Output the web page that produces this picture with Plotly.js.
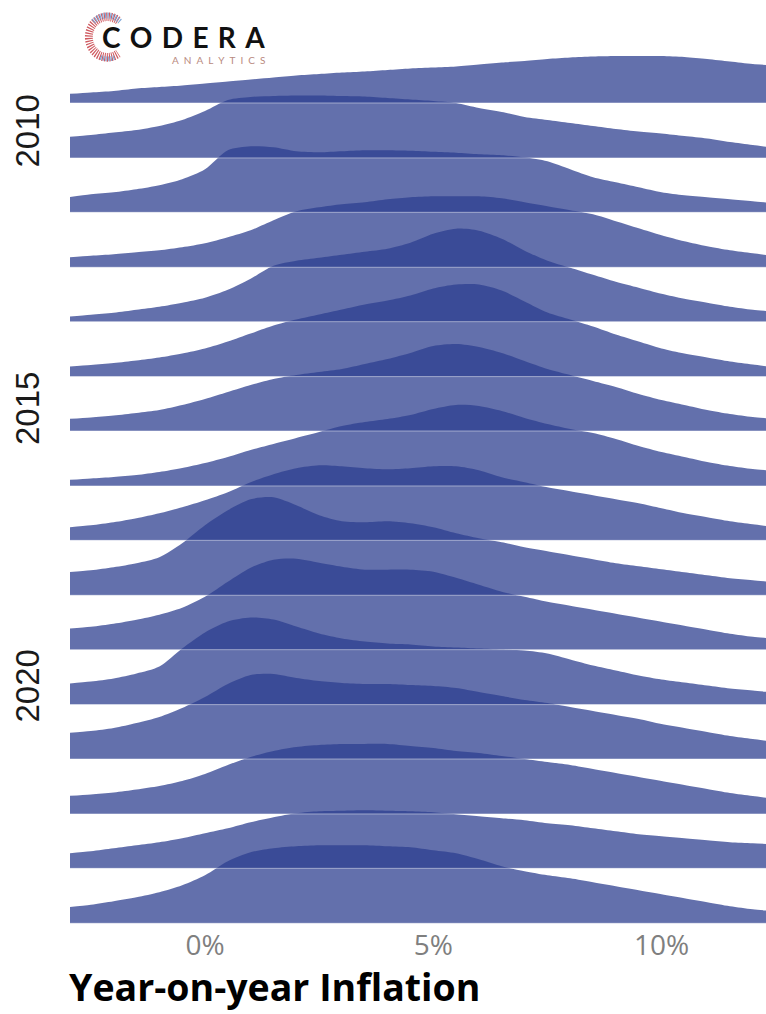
<!DOCTYPE html>
<html>
<head>
<meta charset="utf-8">
<script src="https://cdn.plot.ly/plotly-3.0.1.min.js"></script>
<style>
  html, body { margin: 0; padding: 0; background: #ffffff; }
  #chart { width: 766px; height: 1014px; }
</style>
</head>
<body>
<div id="chart"></div>
<script>
// Inflation grid (% y/y) on which the densities are read
const inflationGrid = [-3, -2.5, -2, -1.5, -1, -0.5, 0, 0.5, 1, 1.5, 2, 2.5, 3, 3.5, 4, 4.5,
                       5, 5.5, 6, 6.5, 7, 7.5, 8, 8.5, 9, 9.5, 10, 10.5, 11, 11.5, 12, 12.5];

// Ridge labels and their positions on the (year) axis
const ridgeYears = [2009, 2010, 2011, 2012, 2013, 2014, 2015, 2016,
                    2017, 2018, 2019, 2020, 2021, 2022, 2023, 2024];
const ridgePositions = [2009.41, 2010.40, 2011.38, 2012.37, 2013.35, 2014.34, 2015.32, 2016.31,
                        2017.29, 2018.28, 2019.26, 2020.25, 2021.23, 2022.22, 2023.20, 2024.19];

// Density heights (relative units) for each ridge
const dens2009 = [9,10.5,12,14.5,16,17.5,19.5,21.5,23.5,25.5,27.5,29,30.5,31.5,33,34.5,35.5,36.5,38.5,40.5,42,44,45.5,46.5,47,47,47,46,44,41.5,39,37.5];
const dens2010 = [21,23,25.5,28,32,38,47,58,61,62,62.5,62.5,62,61.5,60,58.5,57,55,50,46,41,38,35,32,29,26.5,24.5,22,19.5,16,13,10];
const dens2011 = [15,18,20,23,27,33,43,62,66,65,61,60,61,62,62,61.5,60.5,59.5,58,57,55,51,43,35,30,25,20,17,15,13,11,9];
const dens2012 = [10,11.5,13,15,17,20,24,30,37,47,56,60,63,65,68,70,71,71,71,69,65,61,57,53,46,39,32,26,21,17,14,11];
const dens2013 = [5,7,9,12,15,19,24,32,43,56,61,64,67,70,73,79,88,93,91,83,71,61,54,47,40,34,28,23,19,15,12,10];
const dens2014 = [10,11.5,13.5,16,19,23,28,35,43,51,57,62,67,72,76,81,88,92,92,86,75,64,57,50,42,35,28,23,19,15,12,9];
const dens2015 = [12,13.5,15.5,18,21,26,32,39,46,52,56,59,62,67,72,78,85,87,84,78,70,62,56,50,44,37,31,26,21,17,14,12];
const dens2016 = [6,7.5,9,11,14,18,23,29,36,42,48,54,60,64,67,71,77,81,80,75,68,62,57,53,47,40,34,29,24,20,17,15];
const dens2017 = [13,15,18,22,27,33,40,48,58,66,72,75,74,72,71,72,74,74,70,63,58,53,49,45,41,37,32,27,23,19,16,13];
const dens2018 = [23,25,28,32,38,52,70,85,96,98,90,80,74,73,74,72,68,62,57,53,48,44,40,36,32,29,26,23,20,17,15,13];
const dens2019 = [21,23,26,30,35,42,53,68,82,90,91,87,83,80,80,80,78,72,65,58,53,48,44,40,36,32,28,24,20,16,13,11];
const dens2020 = [21,23,26,31,38,56,72,83,87,85,78,71,66,63,61,60,58,57,56,55,54,51,45,39,34,29,25,22,19,16,14,12];
const dens2021 = [26,28,31,36,42,51,62,75,84,85,81,78,76,75,75,74,73,71,67,63,59,56,52,48,44,40,35,31,27,23,20,17];
const dens2022 = [18,19.5,21.5,24.5,28,33,40,49,57,63,67,69,70,70,70,68,66,63,61,58,55,52,49,45,41,37,33,29,25,21,18,15];
const dens2023 = [15,17,20,23,26,30,35,40,46,51,55,57,57.5,58,57.5,57,56,54,52,50,48,45,43,40,37,34,32,30,28,26,25,24];
const dens2024 = [16,18.5,22,26,31,38,48,62,71,75,77,78,78,78,77,76,73,70,64,57,52,48,45,41,37,33,29,25,21,17,14,12];

// Axis ticks
const xTickVals = [0, 5, 10];
const xTickText = ['0%', '5%', '10%'];
const yTickVals = [2010, 2015, 2020];
const yTickText = ['2010', '2015', '2020'];

const densities = [dens2009, dens2010, dens2011, dens2012, dens2013, dens2014, dens2015, dens2016,
                   dens2017, dens2018, dens2019, dens2020, dens2021, dens2022, dens2023, dens2024];

const SCALE = 1 / 55.5;               // density units -> axis (year) units
const FILL = 'rgba(44,62,143,0.74)';

const traces = [];
densities.forEach((d, i) => {
  const base = ridgePositions[i];
  traces.push({
    type: 'scatter', mode: 'lines', x: inflationGrid, y: inflationGrid.map(() => base),
    line: { width: 0, color: 'rgba(0,0,0,0)' }, hoverinfo: 'skip', showlegend: false
  });
  traces.push({
    type: 'scatter', mode: 'lines', name: String(ridgeYears[i]),
    x: inflationGrid, y: d.map(v => base - v * SCALE), fill: 'tonexty', fillcolor: FILL,
    line: { width: 0, color: FILL, shape: 'spline', smoothing: 0.8 },
    hoverinfo: 'skip', showlegend: false
  });
});

const baselineShapes = ridgePositions.map(p => ({
  type: 'line', xref: 'paper', x0: 0, x1: 1, yref: 'y', y0: p, y1: p,
  line: { color: 'rgba(255,255,255,0.45)', width: 1 }, layer: 'above'
}));

const logoSvg = "<svg xmlns='http://www.w3.org/2000/svg' width='50' height='60' viewBox='0 0 50 60'>" +
  "<path d='M40 13 A21 21 0 1 0 40 47' fill='none' stroke='%23cf5a60' stroke-width='9' stroke-dasharray='1.3 1.3'/>" +
  "<path d='M12 14 A21 21 0 0 1 42 14' fill='none' stroke='%2380a8d8' stroke-width='6' stroke-dasharray='1.3 1.6'/>" +
  "<path d='M20 51 A21 21 0 0 0 36 51' fill='none' stroke='%2380a8d8' stroke-width='5' stroke-dasharray='1.3 1.6'/>" +
  "</svg>";

const layout = {
  width: 766, height: 1014,
  margin: { l: 70, r: 0, t: 30, b: 84 },
  paper_bgcolor: '#ffffff', plot_bgcolor: '#ffffff',
  showlegend: false,
  xaxis: {
    range: [-2.957, 12.289], showgrid: false, zeroline: false, showline: false,
    ticks: '', tickvals: xTickVals, ticktext: xTickText,
    tickfont: { family: 'Open Sans', size: 28, color: '#7f7f7f' },
    ticklabelstandoff: -4
  },
  yaxis: {
    range: [2024.311, 2008.095], showgrid: false, zeroline: false, showline: false,
    ticks: '', tickvals: yTickVals, ticktext: yTickText, tickangle: -90,
    tickfont: { family: 'Liberation Sans', size: 33, color: '#1a1a1a' },
    ticklabelstandoff: 23
  },
  shapes: baselineShapes,
  images: [{
    source: 'data:image/svg+xml;charset=utf-8,' + logoSvg,
    xref: 'paper', yref: 'paper', x: 0.0187, y: 1.0244, sizex: 0.0632, sizey: 0.0644,
    xanchor: 'left', yanchor: 'top', sizing: 'stretch', layer: 'above'
  }],
  annotations: [
    { text: '<b>Year-on-year Inflation</b>', xref: 'paper', yref: 'paper', x: -0.003, y: -0.0922,
      xanchor: 'left', yanchor: 'bottom', showarrow: false, borderpad: 0,
      font: { family: 'Open Sans', size: 37.5, color: '#000000' } },
    { text: 'C\u2004O\u2004D\u2004E\u2004R\u2004A', xref: 'paper', yref: 'paper', x: 0.043, y: 0.992,
      xanchor: 'left', yanchor: 'middle', showarrow: false,
      font: { family: 'Lato', size: 28, color: '#111111', weight: 700 } },
    { text: 'A\u2002N\u2002A\u2002L\u2002Y\u2002T\u2002I\u2002C\u2002S', xref: 'paper', yref: 'paper', x: 0.1437, y: 0.9667,
      xanchor: 'left', yanchor: 'middle', showarrow: false,
      font: { family: 'Lato', size: 10, color: '#b98a80' } }
  ]
};

Plotly.newPlot('chart', traces, layout, { displayModeBar: false, staticPlot: true });
</script>
</body>
</html>
